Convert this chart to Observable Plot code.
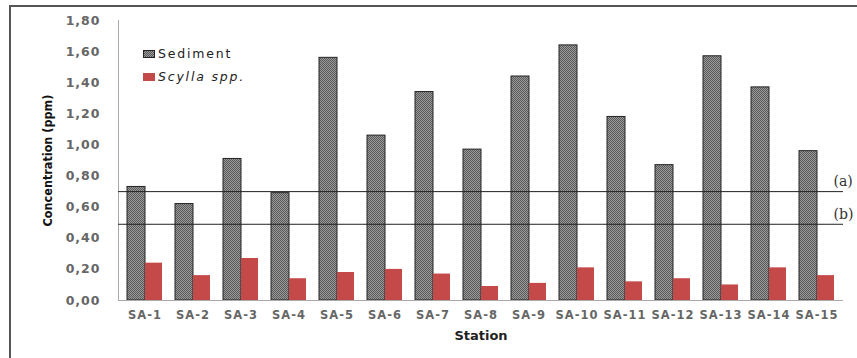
<!DOCTYPE html>
<html>
<head>
<meta charset="utf-8">
<script src="https://cdn.jsdelivr.net/npm/d3@7"></script>
<script src="https://cdn.jsdelivr.net/npm/@observablehq/plot@0.6"></script>
<style>
  html, body { margin: 0; padding: 0; background: #fff; overflow: hidden; }
  #wrap { position: relative; width: 857px; height: 358px; overflow: hidden; font-family: "DejaVu Sans", sans-serif; }
  #border { position: absolute; left: 9px; top: 5px; width: 900px; height: 400px; border-left: 2px solid #555; border-top: 2px solid #555; pointer-events: none; }
  #legend { position: absolute; left: 143px; top: 42px; font-size: 12.5px; color: #222; letter-spacing: 1.8px; }
  #legend .row { display: flex; align-items: center; height: 23px; }
  #legend .sw { width: 12px; height: 8px; margin-right: 3px; }
  #legend .it { font-style: italic; }
  g[aria-label="y-axis tick label"] text { letter-spacing: 1px; }
  g[aria-label="x-axis tick label"] text { letter-spacing: 1px; }
</style>
</head>
<body>
<div id="wrap">
  <div id="border"></div>
  <div id="legend">
    <div class="row"><svg class="sw" width="12" height="8"><rect x="0.5" y="0.5" width="11" height="7" fill="url(#sedPat)" stroke="#222" stroke-width="1"></rect></svg><span id="lg0"></span></div>
    <div class="row"><svg class="sw" width="12" height="8"><rect width="12" height="8" fill="#c44a4a"></rect></svg><span id="lg1" class="it"></span></div>
  </div>
</div>
<script>
const stations = ["SA-1","SA-2","SA-3","SA-4","SA-5","SA-6","SA-7","SA-8","SA-9","SA-10","SA-11","SA-12","SA-13","SA-14","SA-15"];
const sediment = [0.73, 0.62, 0.91, 0.69, 1.56, 1.06, 1.34, 0.97, 1.44, 1.64, 1.18, 0.87, 1.57, 1.37, 0.96];
const scylla   = [0.24, 0.16, 0.27, 0.14, 0.18, 0.20, 0.17, 0.09, 0.11, 0.21, 0.12, 0.14, 0.10, 0.21, 0.16];
const seriesNames = ["Sediment", "Scylla spp."];
const thresholds = [0.70, 0.49];
const thresholdLabels = ["(a)", "(b)"];
const yTicks = [0, 0.2, 0.4, 0.6, 0.8, 1.0, 1.2, 1.4, 1.6, 1.8];
const yTitle = "Concentration (ppm)";
const xTitle = "Station";

document.getElementById("lg0").textContent = seriesNames[0];
document.getElementById("lg1").textContent = seriesNames[1];

const sedData = stations.map((s, i) => ({station: s, value: sediment[i]}));
const scyData = stations.map((s, i) => ({station: s, value: scylla[i]}));

const chart = Plot.plot({
  width: 857,
  height: 358,
  marginLeft: 118,
  marginRight: 14,
  marginTop: 20,
  marginBottom: 58,
  style: {fontFamily: "DejaVu Sans, sans-serif", background: "transparent", overflow: "visible"},
  x: {domain: stations, paddingInner: 0.28, paddingOuter: 0.14, label: null},
  y: {domain: [0, 1.8], label: null},
  marks: [
    Plot.axisY({ticks: yTicks, tickSize: 0, tickPadding: 18, label: null,
      tickFormat: d => d.toFixed(2).replace(".", ","), fill: "#666", fontWeight: "bold", fontSize: 12.5}),
    Plot.axisX({tickSize: 0, tickPadding: 10, label: null, fill: "#666", fontWeight: "bold", fontSize: 11.5}),
    Plot.frame({anchor: "left", stroke: "#aaa"}),
    Plot.barY(sedData, {x: "station", y: "value", fill: "url(#sedPat)", stroke: "#222", strokeWidth: 1, insetRight: 17}),
    Plot.barY(scyData, {x: "station", y: "value", fill: "#c44a4a", insetLeft: 18}),
    Plot.ruleY([0], {stroke: "#aaa"}),
    Plot.ruleY(thresholds, {stroke: "#222", strokeWidth: 1}),
    Plot.text(thresholds, {y: d => d, text: (d, i) => thresholdLabels[i], frameAnchor: "right", textAnchor: "start",
      dx: -10, dy: -10, fontFamily: "DejaVu Serif, serif", fontSize: 14, fill: "#333"}),
    Plot.text([yTitle], {frameAnchor: "left", textAnchor: "middle", lineAnchor: "middle", rotate: -90, dx: -71,
      fontWeight: "bold", fontSize: 12.5,
      fontFamily: "Liberation Sans Narrow, DejaVu Sans Condensed, sans-serif", fill: "#111"}),
    Plot.text([xTitle], {frameAnchor: "bottom", lineAnchor: "middle", dy: 35, fontWeight: "bold", fontSize: 13, fill: "#222"})
  ]
});

const defs = d3.create("svg:defs");
const pat = defs.append("pattern").attr("id", "sedPat").attr("width", 2).attr("height", 2).attr("patternUnits", "userSpaceOnUse");
pat.append("rect").attr("width", 2).attr("height", 2).attr("fill", "#9a9a9a");
pat.append("rect").attr("width", 1).attr("height", 1).attr("fill", "#5a5a5a");
pat.append("rect").attr("x", 1).attr("y", 1).attr("width", 1).attr("height", 1).attr("fill", "#5a5a5a");
chart.insertBefore(defs.node(), chart.firstChild);
d3.select(chart).style("position", "absolute").style("left", "0px").style("top", "0px");
document.getElementById("wrap").insertBefore(chart, document.getElementById("border"));
</script>
</body>
</html>
